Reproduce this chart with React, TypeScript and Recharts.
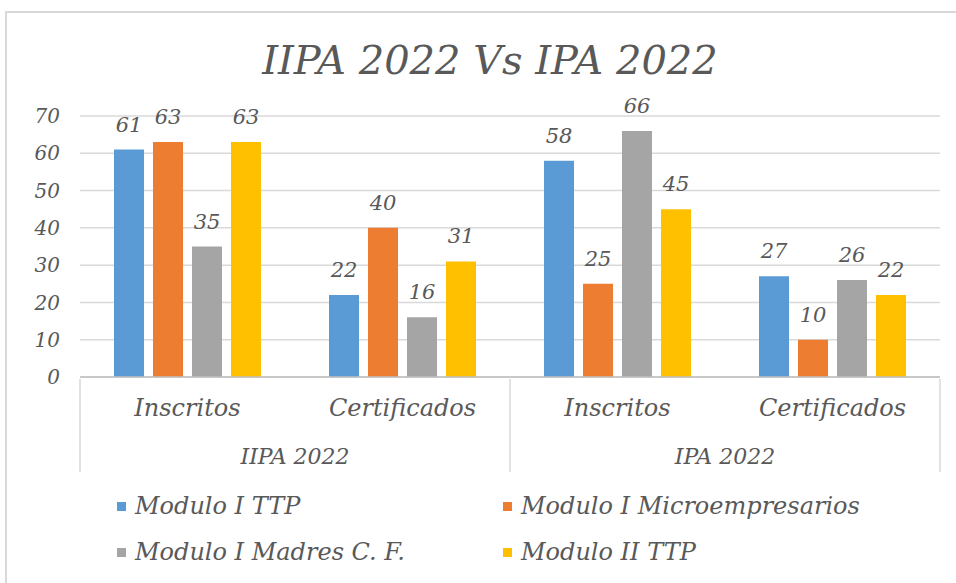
import React from 'react';
import { BarChart, Bar, XAxis, YAxis, CartesianGrid, LabelList } from 'recharts';

const categories = ['Inscritos', 'Certificados', 'Inscritos', 'Certificados'];
const groups = ['IIPA 2022', 'IIPA 2022', 'IPA 2022', 'IPA 2022'];
const moduloITTP = [61, 22, 58, 27];
const moduloIMicro = [63, 40, 25, 10];
const moduloIMadres = [35, 16, 66, 26];
const moduloIITTP = [63, 31, 45, 22];
const yTicks = [0, 10, 20, 30, 40, 50, 60, 70];

const seriesInfo = [
  { key: 'm1', name: 'Modulo I TTP', color: '#5B9BD5' },
  { key: 'm2', name: 'Modulo I Microempresarios', color: '#ED7D31' },
  { key: 'm3', name: 'Modulo I Madres C. F.', color: '#A5A5A5' },
  { key: 'm4', name: 'Modulo II TTP', color: '#FFC000' },
];

const chartData = categories.map((cat, i) => ({
  cat,
  group: groups[i],
  m1: moduloITTP[i],
  m2: moduloIMicro[i],
  m3: moduloIMadres[i],
  m4: moduloIITTP[i],
}));

const FONT = '"DejaVu Serif", serif';
const TEXT = '#595959';
const CHART_W = 956;
const CHART_H = 583;
const MARGIN = { top: 116, right: 16, left: 0, bottom: 111 };
const YAXIS_W = 80;
const BAND = (CHART_W - MARGIN.left - MARGIN.right - YAXIS_W) / categories.length;

// two-tier category axis: category name, separators and the group name below
const CategoryTick = (props: any) => {
  const { x, y, index, payload } = props;
  const row = chartData[index];
  const lines: number[] = [];
  if (index === 0) lines.push(x - BAND / 2);
  if (index % 2 === 1) lines.push(x + BAND / 2);
  return (
    <g>
      <text x={x} y={y + 37} textAnchor="middle" fill={TEXT} fontSize={24} fontStyle="italic" fontFamily={FONT}>
        {payload.value}
      </text>
      {lines.map((lx) => (
        <line key={lx} x1={lx} x2={lx} y1={y} y2={y + 93} stroke="#D9D9D9" strokeWidth={1.5} />
      ))}
      {index % 2 === 0 && (
        <text x={x + BAND / 2} y={y + 85} textAnchor="middle" fill={TEXT} fontSize={22} fontStyle="italic" fontFamily={FONT}>
          {row.group}
        </text>
      )}
    </g>
  );
};

const App = () => {
  return (
    <div style={{ position: 'absolute', left: 0, top: 0, width: CHART_W, height: CHART_H, background: '#fff', overflow: 'hidden' }}>
      <div style={{ position: 'absolute', left: 5, top: 11, width: 970, height: 600, border: '2px solid #D9D9D9' }} />
      <div style={{ position: 'absolute', left: 0, top: 37, width: 980, textAlign: 'center', fontFamily: FONT, fontStyle: 'italic', fontSize: 40, color: TEXT }}>
        IIPA 2022 Vs IPA 2022
      </div>
      <div style={{ position: 'absolute', left: 0, top: 0 }}>
        <BarChart width={CHART_W} height={CHART_H} data={chartData} margin={MARGIN} barSize={30} barGap={9}>
          <CartesianGrid vertical={false} stroke="#D9D9D9" strokeWidth={1.5} />
          <XAxis
            dataKey="cat"
            height={95}
            interval={0}
            tickLine={false}
            tickSize={0}
            axisLine={{ stroke: '#BFBFBF', strokeWidth: 1.5 }}
            tick={<CategoryTick />}
          />
          <YAxis
            width={YAXIS_W}
            domain={[0, 70]}
            ticks={yTicks}
            axisLine={false}
            tickLine={false}
            tickMargin={14}
            tick={{ fill: TEXT, fontSize: 20, fontStyle: 'italic', fontFamily: FONT }}
          />
          {seriesInfo.map((s) => (
            <Bar key={s.key} dataKey={s.key} name={s.name} fill={s.color} isAnimationActive={false}>
              <LabelList dataKey={s.key} position="top" offset={18} fill={TEXT} fontSize={21} fontStyle="italic" fontFamily={FONT} />
            </Bar>
          ))}
        </BarChart>
      </div>
      {seriesInfo.map((s, i) => (
        <div
          key={s.key}
          style={{
            position: 'absolute',
            left: i % 2 === 0 ? 117 : 503,
            top: i < 2 ? 492 : 538,
            display: 'flex',
            alignItems: 'center',
            fontFamily: FONT,
            fontStyle: 'italic',
            fontSize: 24,
            color: TEXT,
            whiteSpace: 'nowrap',
          }}
        >
          <span style={{ display: 'inline-block', width: 9, height: 9, background: s.color, marginRight: 9 }} />
          {s.name}
        </div>
      ))}
    </div>
  );
};

export default App;
